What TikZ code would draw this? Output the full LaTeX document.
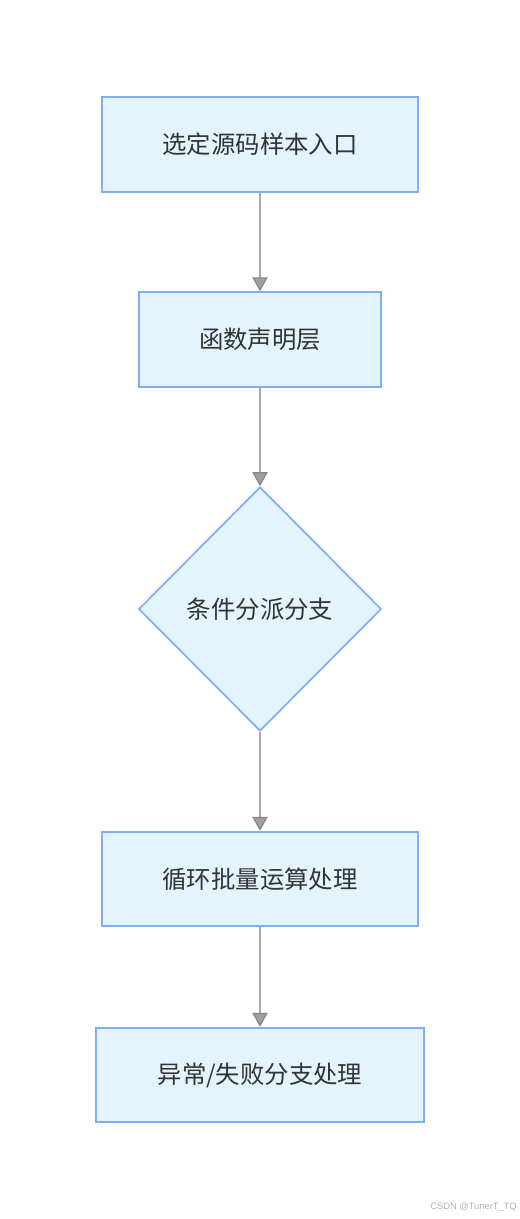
\documentclass[tikz,border=0pt]{standalone}
\usepackage{fontspec}
\setsansfont{Liberation Sans}
\newfontfamily\cjk{Noto Sans CJK SC}
\usetikzlibrary{shapes.geometric,arrows.meta}

\definecolor{boxfill}{HTML}{E3F4FD}
\definecolor{boxline}{HTML}{7FAEF5}
\definecolor{flowline}{HTML}{A8A8A8}
\definecolor{labeltext}{HTML}{333333}

\tikzset{
  stepbox/.style={draw=boxline, fill=boxfill, line width=1.3pt, inner sep=0pt,
    text=labeltext, font=\cjk\fontsize{18.3}{21}\selectfont},
  choice/.style={stepbox, diamond, aspect=1, minimum width=182pt, minimum height=183pt},
  flow/.style={draw=flowline, line width=0.9pt,
    -{Triangle[width=11.5pt,length=10.5pt,fill=flowline!95!black,color=flowline!80!black]}}
}

\begin{document}
\begin{tikzpicture}[x=0.75pt,y=0.75pt,yscale=-1,xscale=1]
        \useasboundingbox (0,0) rectangle (520,1219);

        %Shape: steps of the flow
        \node (entry) at (260,144.5) [stepbox, minimum width=237pt, minimum height=71pt] {选定源码样本入口};
        \node (decl) at (260,339.5) [stepbox, minimum width=181.5pt, minimum height=71pt] {函数声明层};
        \node (branch) at (260,609) [choice] {条件分派分支};
        \node (loop) at (260,879) [stepbox, minimum width=237pt, minimum height=71pt] {循环批量运算处理};
        \node (fail) at (260,1075) [stepbox, minimum width=246pt, minimum height=71pt] {异常/失败分支处理};

        %Connectors
        \draw [flow] (entry) -- (decl);
        \draw [flow] (decl) -- (branch);
        \draw [flow] (branch) -- (loop);
        \draw [flow] (loop) -- (fail);

        \node (mark) at (517,1207) [anchor=east, inner sep=0pt, text=black!30, font=\sffamily\fontsize{7}{8}\selectfont] {CSDN @TunerT\_TQ};
    \end{tikzpicture}
\end{document}
